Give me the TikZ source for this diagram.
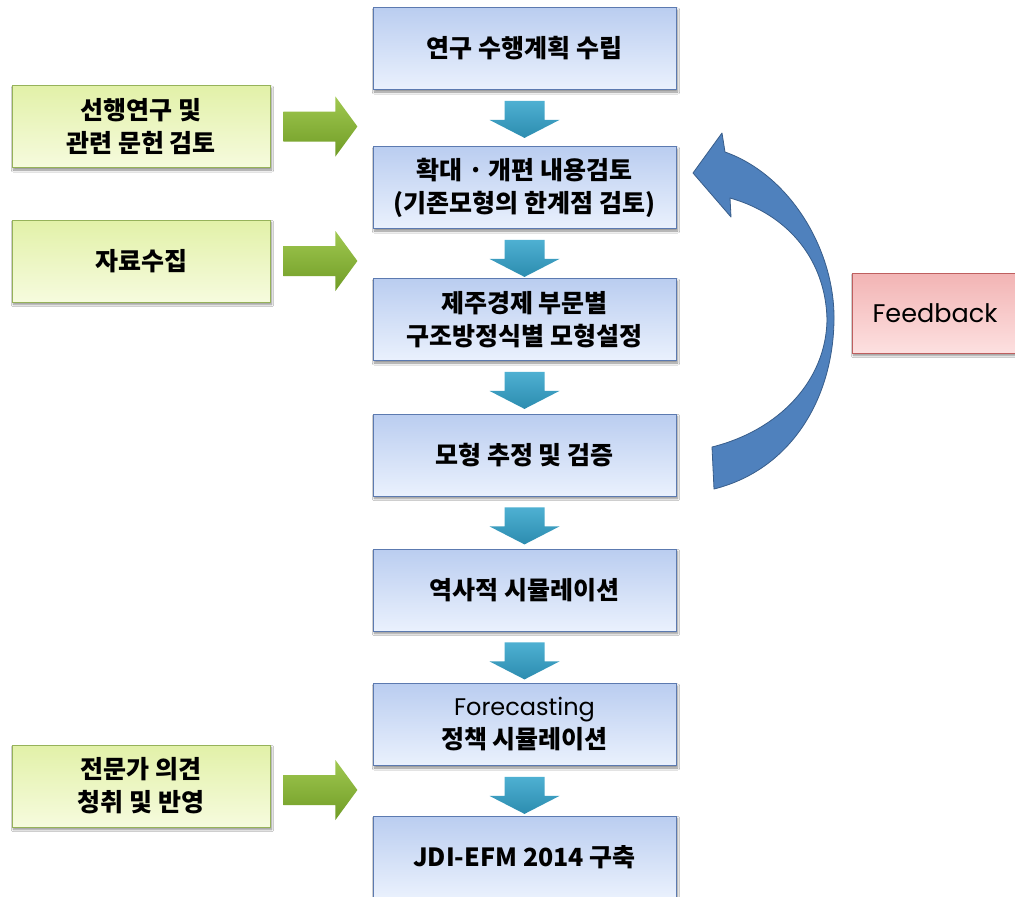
\documentclass[tikz,border=0pt]{standalone}
\usepackage{fontspec}
\setmainfont{Noto Sans CJK KR}
\newfontfamily\geofont{Poppins}
\usetikzlibrary{shadows.blur,calc}
\definecolor{bluetop}{RGB}{186,205,240}
\definecolor{bluebot}{RGB}{234,241,253}
\definecolor{blueline}{RGB}{92,122,176}
\definecolor{greentop}{RGB}{226,241,168}
\definecolor{greenbot}{RGB}{246,251,222}
\definecolor{greenline}{RGB}{150,178,90}
\definecolor{pinktop}{RGB}{242,180,180}
\definecolor{pinkbot}{RGB}{253,224,224}
\definecolor{pinkline}{RGB}{190,95,95}
\definecolor{arrtop}{RGB}{78,176,210}
\definecolor{arrbot}{RGB}{44,140,175}
\definecolor{garrtop}{RGB}{160,200,80}
\definecolor{garrbot}{RGB}{112,156,38}
\definecolor{curvefill}{RGB}{79,129,189}
\definecolor{curveline}{RGB}{56,93,138}
\newcommand\blockdown[1]{%
  \path[top color=arrtop,bottom color=arrbot]
    ($(#1.south)+(-20,11)$) -- ++(40,0) -- ++(0,19) -- ++(15,0)
    -- ($(#1.south)+(0,48)$) -- ($(#1.south)+(-35,30)$) -- ++(15,0) -- cycle;}
\newcommand\blockright[2]{%
  \path[top color=garrtop,bottom color=garrbot]
    ($(#1.east)+(13,#2-15)$) -- ++(52,0) -- ++(0,-15)
    -- ($(#1.east)+(87,#2)$) -- ($(#1.east)+(65,#2+30)$) -- ++(0,-15) -- ++(-52,0) -- cycle;}
\begin{document}
\begin{tikzpicture}[x=1pt,y=-1pt,
  boxbase/.style={rectangle,align=center,line width=0.8pt,inner sep=2pt,
    font=\fontsize{25}{33}\selectfont\bfseries,text=black,
    blur shadow={shadow xshift=1.5pt,shadow yshift=-2.5pt,shadow blur steps=6,shadow opacity=45}},
  mainbox/.style={boxbase,draw=blueline,top color=bluetop,bottom color=bluebot,
    minimum width=303pt,minimum height=82pt},
  sidebox/.style={boxbase,draw=greenline,top color=greentop,bottom color=greenbot,
    minimum width=258pt,minimum height=82pt},
  fbbox/.style={boxbase,draw=pinkline,top color=pinktop,bottom color=pinkbot,
    minimum width=166pt,minimum height=80pt,font=\fontsize{25.5}{30}\selectfont\geofont}
]
\useasboundingbox (0,0) rectangle (1015,897);
\fill[white] (0,0) rectangle (1015,897);

\node[mainbox] (b1) at (524.5,48.5) {연구 수행계획 수립};
\node[mainbox] (b2) at (524.5,187.5) {확대 · 개편 내용검토\\(기존모형의 한계점 검토)};
\node[mainbox] (b3) at (524.5,319.5) {제주경제 부문별\\구조방정식별 모형설정};
\node[mainbox] (b4) at (524.5,455) {모형 추정 및 검증};
\node[mainbox] (b5) at (524.5,590) {역사적 시뮬레이션};
\node[mainbox] (b6) at (524.5,724.5) {{\fontsize{24}{33}\selectfont\geofont\mdseries Forecasting}\\정책 시뮬레이션};
\node[mainbox] (b7) at (524.5,857) {JDI-EFM 2014 구축};

\node[sidebox] (g1) at (141,126.5) {선행연구 및\\관련 문헌 검토};
\node[sidebox] (g2) at (141,261) {자료수집};
\node[sidebox] (g3) at (141,786) {전문가 의견\\청취 및 반영};

\node[fbbox] (fb) at (935,313) {Feedback};

\blockdown{b1}
\blockdown{b2}
\blockdown{b3}
\blockdown{b4}
\blockdown{b5}
\blockdown{b6}

\blockright{g1}{0}
\blockright{g2}{0}
\blockright{g3}{4}

% curved feedback arrow
\coordinate (tip) at (693,173);
\filldraw[fill=curvefill,draw=curveline,line width=0.8pt,line join=round]
  (725,152) .. controls (790,175) and (835,250) .. (834,320)
  .. controls (833,400) and (790,470) .. (714,489)
  -- (712,447)
  .. controls (780,430) and (826,380) .. (827,320)
  .. controls (826,262) and (790,215) .. (730,198)
  -- (731,217) -- (tip) -- (722,133) -- cycle;
\end{tikzpicture}
\end{document}
